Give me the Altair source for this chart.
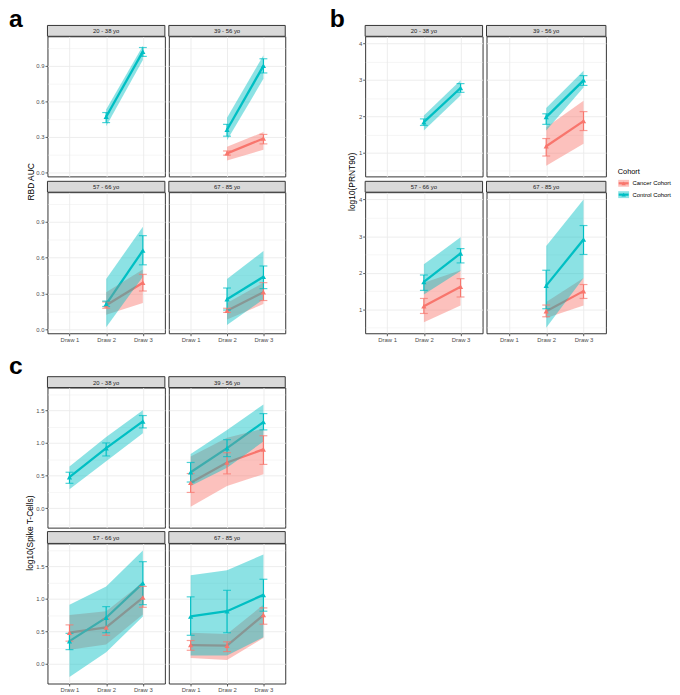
import json

import altair as alt
import pandas as pd

FONT = "Liberation Sans"

AGES = ["20 - 38 yo", "39 - 56 yo", "57 - 66 yo", "67 - 85 yo"]
DRAWS = ["Draw 1", "Draw 2", "Draw 3"]
COHORTS = ["Cancer Cohort", "Control Cohort"]
COLORS = ["#F8766D", "#00BFC4"]

# same series order in every panel: (age group, cohort)
KEYS = [
    ("20 - 38 yo", "Control Cohort"),
    ("39 - 56 yo", "Cancer Cohort"),
    ("39 - 56 yo", "Control Cohort"),
    ("57 - 66 yo", "Cancer Cohort"),
    ("57 - 66 yo", "Control Cohort"),
    ("67 - 85 yo", "Cancer Cohort"),
    ("67 - 85 yo", "Control Cohort"),
]

# a: RBD AUC (Draw 2, Draw 3)
A_MEAN = [[0.47, 1.02], [0.16, 0.285], [0.36, 0.90], [0.20, 0.39], [0.21, 0.66], [0.155, 0.31], [0.25, 0.44]]
A_ERR_LO = [[0.42, 0.98], [0.145, 0.24], [0.305, 0.84], [0.175, 0.32], [0.19, 0.54], [0.14, 0.24], [0.16, 0.34]]
A_ERR_HI = [[0.505, 1.055], [0.18, 0.32], [0.405, 0.96], [0.228, 0.46], [0.235, 0.785], [0.175, 0.39], [0.345, 0.53]]
A_BAND_LO = [[0.39, 0.95], [0.10, 0.19], [0.27, 0.79], [0.12, 0.22], [0.015, 0.44], [0.08, 0.21], [0.035, 0.25]]
A_BAND_HI = [[0.53, 1.07], [0.215, 0.34], [0.46, 0.99], [0.31, 0.50], [0.42, 0.86], [0.22, 0.39], [0.42, 0.655]]

# b: log10(PRNT90) (Draw 2, Draw 3)
B_MEAN = [[1.84, 2.78], [1.18, 1.87], [1.98, 2.99], [1.09, 1.62], [1.75, 2.53], [0.95, 1.50], [1.65, 2.91]]
B_ERR_LO = [[1.75, 2.66], [0.91, 1.61], [1.78, 2.85], [0.89, 1.34], [1.52, 2.27], [0.80, 1.30], [1.02, 2.50]]
B_ERR_HI = [[1.93, 2.90], [1.39, 2.13], [2.07, 3.12], [1.30, 1.84], [1.94, 2.66], [1.12, 1.68], [2.07, 3.29]]
B_BAND_LO = [[1.61, 2.57], [0.64, 1.25], [1.61, 2.79], [0.65, 1.11], [1.41, 2.05], [0.77, 1.11], [0.50, 1.86]]
B_BAND_HI = [[2.02, 2.99], [1.70, 2.43], [2.23, 3.25], [1.73, 2.07], [2.23, 2.97], [1.20, 1.86], [2.73, 4.00]]

# c: log10(Spike T-Cells) (Draw 1, Draw 2, Draw 3)
C_MEAN = [[0.475, 0.92, 1.33], [0.39, 0.70, 0.90], [0.55, 0.92, 1.32], [0.48, 0.56, 1.02],
          [0.35, 0.71, 1.24], [0.29, 0.28, 0.75], [0.73, 0.81, 1.06]]
C_ERR_LO = [[0.38, 0.80, 1.23], [0.24, 0.525, 0.67], [0.40, 0.79, 1.20], [0.35, 0.44, 0.87],
            [0.22, 0.48, 0.91], [0.21, 0.19, 0.61], [0.44, 0.48, 0.81]]
C_ERR_HI = [[0.55, 1.00, 1.42], [0.53, 0.85, 1.11], [0.70, 1.05, 1.45], [0.60, 0.69, 1.19],
            [0.47, 0.88, 1.57], [0.36, 0.34, 0.86], [1.03, 1.13, 1.30]]
C_BAND_LO = [[0.29, 0.72, 1.15], [0.02, 0.34, 0.52], [0.34, 0.62, 1.02], [0.22, 0.30, 0.76],
             [-0.20, 0.18, 0.73], [0.09, 0.06, 0.40], [0.13, 0.13, 0.41]]
C_BAND_HI = [[0.64, 1.09, 1.50], [0.79, 1.08, 1.22], [0.83, 1.20, 1.59], [0.75, 0.81, 1.25],
             [0.91, 1.19, 1.74], [0.48, 0.46, 0.91], [1.36, 1.44, 1.68]]

A_SPEC = dict(domain=[-0.035, 1.15], major=[0.0, 0.3, 0.6, 0.9], minor=[0.15, 0.45, 0.75, 1.05],
              fmt=".1f", title="RBD AUC", title_x=-12)
B_SPEC = dict(domain=[0.35, 4.2], major=[1, 2, 3, 4], minor=[0.5, 1.5, 2.5, 3.5],
              fmt="d", title="log10(PRNT90)", title_x=-9)
C_SPEC = dict(domain=[-0.30, 1.85], major=[0.0, 0.5, 1.0, 1.5], minor=[-0.25, 0.25, 0.75, 1.25, 1.75],
              fmt=".1f", title="log10(Spike T-Cells)", title_x=-13)

COLOR_SCALE = alt.Scale(domain=COHORTS, range=COLORS)
STRIP_H = 11


def frame(draws, mean, err_lo, err_hi, band_lo, band_hi):
    rows = []
    for i, (age, cohort) in enumerate(KEYS):
        for j, draw in enumerate(draws):
            rows.append(dict(age=age, cohort=cohort, draw=draw, mean=mean[i][j], err_lo=err_lo[i][j],
                             err_hi=err_hi[i][j], band_lo=band_lo[i][j], band_hi=band_hi[i][j]))
    return pd.DataFrame(rows)


def x_axis(last_row):
    opts = dict(domain=False, grid=True, gridColor="#EBEBEB", gridWidth=0.9, labelAngle=0)
    if not last_row:
        opts.update(labels=False, ticks=False)
    return alt.Axis(**opts)


def y_axis(spec, first_col, show_title):
    test = f"indexof({json.dumps(spec['major'])}, datum.value) >= 0"
    opts = dict(values=sorted(spec["major"] + spec["minor"]), domain=False, grid=True, gridColor="#EBEBEB",
                gridWidth={"condition": {"test": test, "value": 0.9}, "value": 0.45})
    if first_col:
        opts.update(labelExpr=f"{test} ? format(datum.value, '{spec['fmt']}') : ''",
                    tickOpacity={"condition": {"test": test, "value": 1}, "value": 0})
    else:
        opts.update(labels=False, ticks=False)
    if show_title:
        opts.update(title=spec["title"], titleX=spec["title_x"], titleY=147)
    else:
        opts.update(title=None)
    return alt.Axis(**opts)


def cell(df, spec, age, w, h, first_col, last_row, show_title, strip_h=STRIP_H, letter=None):
    sub = df[df["age"] == age]
    x = alt.X("draw:N", title=None, scale=alt.Scale(type="point", domain=DRAWS, padding=0.6), axis=x_axis(last_row))
    yax = y_axis(spec, first_col, show_title)
    ysc = alt.Scale(domain=spec["domain"], nice=False, zero=False)
    base = alt.Chart(sub).encode(x=x, color=alt.Color("cohort:N", scale=COLOR_SCALE, legend=None))

    def y(field):
        return alt.Y(f"{field}:Q", scale=ysc, axis=yax)

    line = base.mark_line(strokeWidth=2.3).encode(y=y("mean"))
    band = base.mark_area(opacity=0.45).encode(y=y("band_lo"), y2="band_hi:Q")
    bar = base.mark_rule(strokeWidth=1.2).encode(y=y("err_lo"), y2="err_hi:Q")
    cap_lo = base.mark_tick(size=8, thickness=1.2).encode(y=y("err_lo"))
    cap_hi = base.mark_tick(size=8, thickness=1.2).encode(y=y("err_hi"))
    pts = base.mark_point(shape="triangle-up", filled=True, size=28, opacity=1).encode(y=y("mean"))

    # facet strip above the panel
    sdata = alt.Chart(pd.DataFrame({"age": [age]}))
    strip_box = sdata.mark_rect(fill="#D9D9D9", stroke="#333333", strokeWidth=1).encode(
        x=alt.value(0), x2=alt.value(w), y=alt.value(-strip_h), y2=alt.value(0)
    )
    strip_txt = sdata.mark_text(font=FONT, fontSize=6, color="#1A1A1A", baseline="middle").encode(
        text="age:N", x=alt.value(w / 2), y=alt.value(-strip_h / 2 + 0.5)
    )
    layers = [line, band, bar, cap_lo, cap_hi, pts, strip_box, strip_txt]
    if letter:
        # panel letter, placed up and left of the first facet
        layers.append(
            alt.Chart(pd.DataFrame({"t": [letter[0]]}))
            .mark_text(align="left", baseline="alphabetic", font=FONT, fontSize=25, fontWeight="bold", color="black")
            .encode(text="t:N", x=alt.value(letter[1]), y=alt.value(letter[2]))
        )
    return alt.layer(*layers).properties(
        width=w, height=h, view=alt.ViewBackground(fill="white", stroke="#333333", strokeWidth=1)
    )


def empty(w, h):
    return alt.Chart(pd.DataFrame({"e": []})).mark_point().properties(
        width=w, height=h, view=alt.ViewBackground(stroke="transparent")
    )


df_a = frame(DRAWS[1:], A_MEAN, A_ERR_LO, A_ERR_HI, A_BAND_LO, A_BAND_HI)
df_b = frame(DRAWS[1:], B_MEAN, B_ERR_LO, B_ERR_HI, B_BAND_LO, B_BAND_HI)
df_c = frame(DRAWS, C_MEAN, C_ERR_LO, C_ERR_HI, C_BAND_LO, C_BAND_HI)

# legend built from the cohort list
ly = alt.Y("cohort:N", scale=alt.Scale(type="point", domain=COHORTS, range=[149, 160.5], padding=0), axis=None)
lc = alt.Color("cohort:N", scale=COLOR_SCALE, legend=None)
lbase = alt.Chart(pd.DataFrame({"cohort": COHORTS})).encode(y=ly)
key_box = lbase.mark_tick(orient="horizontal", size=11, thickness=7, opacity=0.45).encode(
    x=alt.value(14), color=lc
)
key_line = lbase.mark_rule(strokeWidth=2.2).encode(x=alt.value(9), x2=alt.value(19), color=lc)
key_pt = lbase.mark_point(shape="triangle-up", filled=True, size=20, opacity=1).encode(x=alt.value(14), color=lc)
key_lab = lbase.mark_text(align="left", baseline="middle", font=FONT, fontSize=6, color="black").encode(
    x=alt.value(23), text="cohort:N"
)
key_title = (
    alt.Chart(pd.DataFrame({"t": ["Cohort"]}))
    .mark_text(align="left", baseline="alphabetic", font=FONT, fontSize=7.5, color="black")
    .encode(text="t:N", x=alt.value(8), y=alt.value(140))
)
legend = alt.layer(key_box, key_line, key_pt, key_lab, key_title).properties(
    width=60, height=142, view=alt.ViewBackground(stroke="transparent")
)

grid = [
    # row 1: a and b, top facets
    cell(df_a, A_SPEC, AGES[0], 119, 142, True, False, True, letter=("a", -39, -9)),
    cell(df_a, A_SPEC, AGES[1], 118, 142, False, False, False),
    empty(73, 142),
    cell(df_b, B_SPEC, AGES[0], 119, 142, True, False, True, letter=("b", -36, -9)),
    cell(df_b, B_SPEC, AGES[1], 121, 142, False, False, False),
    legend,
    # row 2: a and b, bottom facets
    cell(df_a, A_SPEC, AGES[2], 119, 143, True, True, False),
    cell(df_a, A_SPEC, AGES[3], 118, 143, False, True, False),
    empty(73, 143),
    cell(df_b, B_SPEC, AGES[2], 119, 143, True, True, False),
    cell(df_b, B_SPEC, AGES[3], 121, 143, False, True, False),
    empty(1, 143),
    # spacer row
    empty(1, 23), empty(1, 23), empty(1, 23), empty(1, 23), empty(1, 23), empty(1, 23),
    # row 3: c, top facets
    cell(df_c, C_SPEC, AGES[0], 119, 142, True, False, True, letter=("c", -39, -14)),
    cell(df_c, C_SPEC, AGES[1], 118, 142, False, False, False),
    empty(1, 142), empty(1, 142), empty(1, 142), empty(1, 142),
    # row 4: c, bottom facets
    cell(df_c, C_SPEC, AGES[2], 119, 142, True, True, False, strip_h=12),
    cell(df_c, C_SPEC, AGES[3], 118, 142, False, True, False, strip_h=12),
    empty(1, 142), empty(1, 142), empty(1, 142), empty(1, 142),
]

chart = (
    alt.concat(*grid, columns=6, spacing={"row": 16, "column": 4}, align="each", bounds="flush")
    .properties(padding={"left": 0, "top": -6, "right": 0, "bottom": 0})
    .configure_axis(labelFont=FONT, labelFontSize=6, labelColor="#4D4D4D", labelPadding=1,
                    tickColor="#333333", tickSize=2.5, tickWidth=0.8,
                    titleFont=FONT, titleFontSize=8.5, titleFontWeight="normal", titleColor="black")
)

chart.save("out.html", embed_options={"renderer": "svg", "actions": False})
